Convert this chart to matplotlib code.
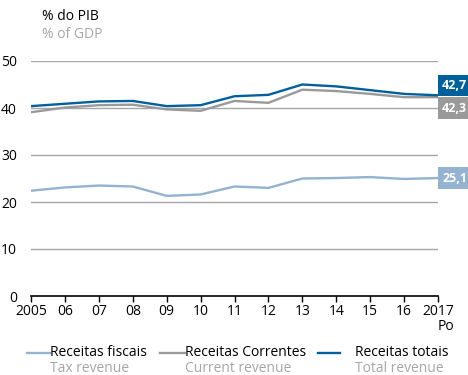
import matplotlib.pyplot as plt
from matplotlib.lines import Line2D

plt.rcParams['font.family'] = ['Open Sans', 'DejaVu Sans']

# Receitas das administrações públicas, % do PIB
anos = ['2005', '06', '07', '08', '09', '10', '11', '12', '13', '14', '15', '16', '2017\nPo']
receitas_fiscais = [22.4, 23.1, 23.5, 23.3, 21.3, 21.6, 23.3, 23.0, 25.0, 25.1, 25.3, 24.9, 25.1]
receitas_correntes = [39.1, 40.1, 40.6, 40.7, 39.7, 39.4, 41.5, 41.1, 43.9, 43.6, 43.0, 42.3, 42.3]
receitas_totais = [40.4, 40.9, 41.4, 41.5, 40.4, 40.6, 42.5, 42.8, 45.0, 44.6, 43.8, 43.0, 42.7]

c_fiscal = '#93b3d0'
c_corr = '#9a9a9a'
c_total = '#00609c'

fig = plt.figure(figsize=(4.68, 3.75), dpi=100)
ax = fig.add_axes([31/468, 79/375, 407/468, 235/375])

x = list(range(len(anos)))
ax.plot(x, receitas_fiscais, color=c_fiscal, lw=1.7, zorder=3)
ax.plot(x, receitas_correntes, color=c_corr, lw=1.7, zorder=3)
ax.plot(x, receitas_totais, color=c_total, lw=1.7, zorder=4)

ax.set_xlim(0, len(anos) - 1)
ax.set_ylim(0, 50)
ax.set_yticks([0, 10, 20, 30, 40, 50])
ax.set_xticks(x)
ax.set_xticklabels(anos, fontsize=10, linespacing=1.0)
ax.tick_params(axis='y', length=0, labelsize=10, pad=10)
ax.tick_params(axis='x', length=4, width=1, direction='out', pad=2)
for lab in ax.get_xticklabels():
    lab.set_horizontalalignment('center')
ax.get_xticklabels()[-1].set_multialignment('right')

for v in [10, 20, 30, 40, 50]:
    ax.axhline(v, color='#a6a6a6', lw=1, zorder=1)
for s in ['top', 'right', 'left']:
    ax.spines[s].set_visible(False)
ax.spines['bottom'].set_color('black')
ax.spines['bottom'].set_linewidth(1.2)

# caixas com o valor do último ano
ultimo = len(anos) - 1
for serie, cor, dy in [(receitas_totais, c_total, 7),
                       (receitas_correntes, c_corr, -8),
                       (receitas_fiscais, c_fiscal, 0)]:
    v = serie[-1]
    ax.annotate(f'{v:.1f}'.replace('.', ','), xy=(ultimo, v), xytext=(3, dy),
                textcoords='offset points', ha='left', va='center',
                color='white', fontsize=9, fontweight='bold', annotation_clip=False,
                bbox=dict(boxstyle='square,pad=0.35', fc=cor, ec='none'))

fig.text(42/468, 1 - 16/375, '% do PIB', fontsize=10, color='black', va='center')
fig.text(42/468, 1 - 35/375, '% of GDP', fontsize=10, color='#a6a6a6', va='center')

# legenda
itens = [(c_fiscal, 27, 50, 50, 'Receitas fiscais', 'Tax revenue'),
         (c_corr, 160, 185, 185, 'Receitas Correntes', 'Current revenue'),
         (c_total, 318, 340, 355, 'Receitas totais', 'Total revenue')]
for cor, x0, x1, xt, pt, en in itens:
    fig.add_artist(Line2D([x0/468, x1/468], [1 - 353/375] * 2, color=cor, lw=1.7))
    fig.text(xt/468, 1 - 353/375, pt, fontsize=10, va='center', color='black')
    fig.text(xt/468, 1 - 369/375, en, fontsize=10, va='center', color='#a6a6a6')

fig.savefig('out.png', dpi=100)
